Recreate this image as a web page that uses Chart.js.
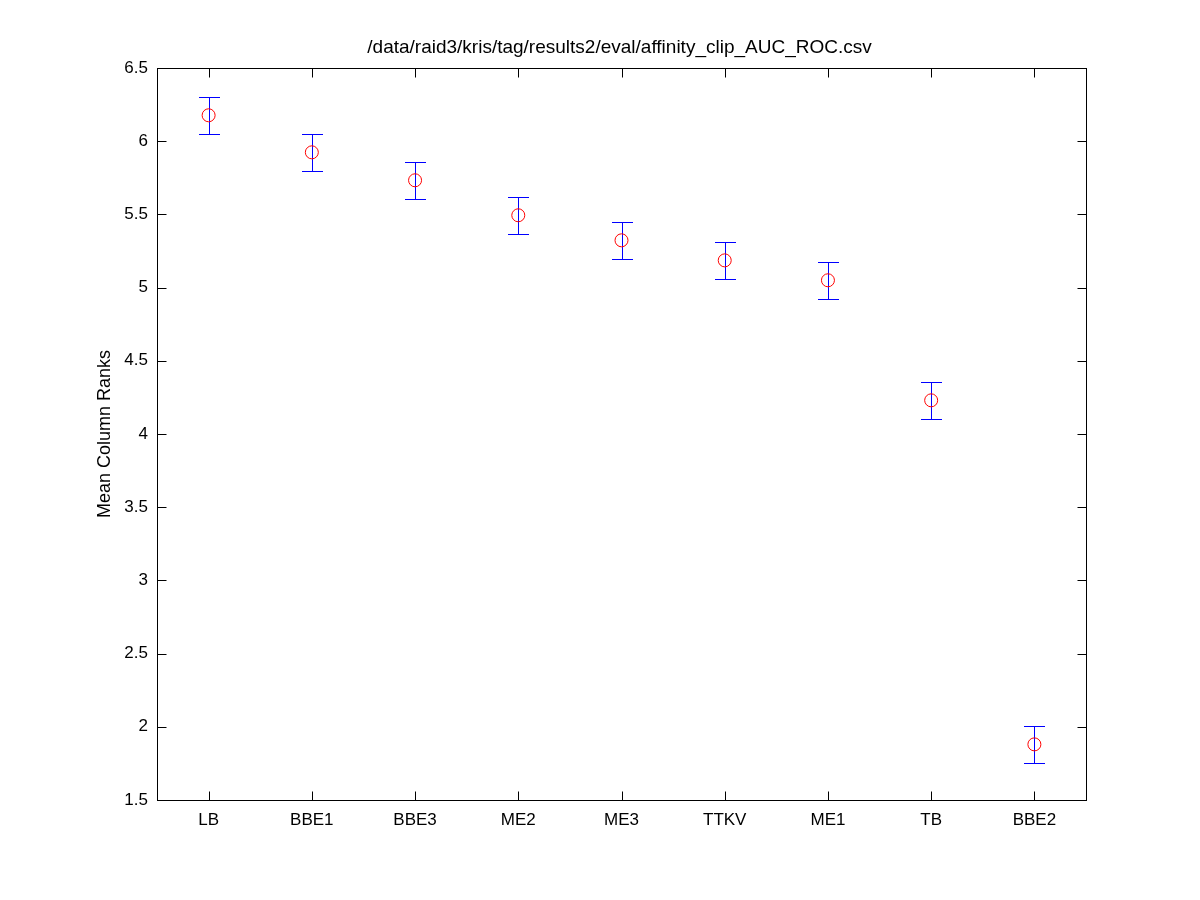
<!DOCTYPE html>
<html>
<head>
<meta charset="utf-8">
<script src="https://cdn.jsdelivr.net/npm/chart.js@4/dist/chart.umd.min.js"></script>
<style>
  body { margin: 0; background: #fff; }
  #wrap { width: 1200px; height: 900px; }
</style>
</head>
<body>
<div id="wrap"><canvas id="rankChart" width="1200" height="900"></canvas></div>
<script>
const categories = ['LB', 'BBE1', 'BBE3', 'ME2', 'ME3', 'TTKV', 'ME1', 'TB', 'BBE2'];
const meanRanks = [6.177, 5.924, 5.733, 5.494, 5.323, 5.186, 5.050, 4.230, 1.880];
const rankErrors = [0.126, 0.126, 0.126, 0.126, 0.126, 0.126, 0.126, 0.126, 0.126];
const yTicks = [1.5, 2, 2.5, 3, 3.5, 4, 4.5, 5, 5.5, 6, 6.5];
const chartTitle = '/data/raid3/kris/tag/results2/eval/affinity_clip_AUC_ROC.csv';

const fontFam = '"Liberation Sans", Arial, sans-serif';

// error bars, axis box, inward ticks and title (matlab style)
const matlabPlot = {
  id: 'matlabPlot',
  beforeDatasetsDraw(chart) {
    const ctx = chart.ctx;
    const xs = chart.scales.x;
    const ys = chart.scales.y;
    ctx.save();
    ctx.strokeStyle = '#0000ff';
    ctx.lineWidth = 1;
    meanRanks.forEach((m, i) => {
      const x = Math.round(xs.getPixelForValue(i)) + 0.5;
      const top = Math.round(ys.getPixelForValue(m + rankErrors[i])) + 0.5;
      const bot = Math.round(ys.getPixelForValue(m - rankErrors[i])) + 0.5;
      ctx.beginPath();
      ctx.moveTo(x, top); ctx.lineTo(x, bot);
      ctx.moveTo(x - 10.5, top); ctx.lineTo(x + 10.5, top);
      ctx.moveTo(x - 10.5, bot); ctx.lineTo(x + 10.5, bot);
      ctx.stroke();
    });
    ctx.restore();
  },
  afterDraw(chart) {
    const ctx = chart.ctx;
    const a = chart.chartArea;
    const xs = chart.scales.x;
    const ys = chart.scales.y;
    const L = Math.round(a.left) + 0.5, R = Math.round(a.right) + 0.5;
    const T = Math.round(a.top) + 0.5, B = Math.round(a.bottom) + 0.5;
    ctx.save();
    ctx.strokeStyle = '#000';
    ctx.lineWidth = 1;
    ctx.strokeRect(L, T, R - L, B - T);
    ctx.beginPath();
    yTicks.forEach(v => {
      const y = Math.round(ys.getPixelForValue(v)) + 0.5;
      ctx.moveTo(L, y); ctx.lineTo(L + 9, y);
      ctx.moveTo(R, y); ctx.lineTo(R - 9, y);
    });
    categories.forEach((c, i) => {
      const x = Math.round(xs.getPixelForValue(i)) + 0.5;
      ctx.moveTo(x, B); ctx.lineTo(x, B - 9);
      ctx.moveTo(x, T); ctx.lineTo(x, T + 9);
    });
    ctx.stroke();
    ctx.fillStyle = '#000';
    ctx.font = '19px ' + fontFam;
    ctx.textAlign = 'center';
    ctx.textBaseline = 'middle';
    ctx.fillText(chartTitle, (a.left + a.right) / 2 - 2, 48);
    ctx.restore();
  }
};

const ctx = document.getElementById('rankChart').getContext('2d');
const chart = new Chart(ctx, {
  type: 'line',
  data: {
    labels: categories,
    datasets: [{
      label: 'Mean Column Ranks',
      data: meanRanks,
      showLine: false,
      pointStyle: 'circle',
      pointRadius: 6.5,
      pointHoverRadius: 6.5,
      pointBorderColor: '#ff0000',
      pointBackgroundColor: 'rgba(0,0,0,0)',
      pointBorderWidth: 1
    }]
  },
  options: {
    responsive: false,
    animation: false,
    devicePixelRatio: 1,
    layout: { padding: { left: 94, right: 114, top: 68, bottom: 0 } },
    plugins: {
      legend: { display: false },
      tooltip: { enabled: false }
    },
    scales: {
      x: {
        type: 'category',
        offset: true,
        grid: { display: false, drawTicks: false },
        border: { display: false },
        ticks: { color: '#000', font: { family: fontFam, size: 17 }, padding: 10, maxRotation: 0 },
        afterFit: s => { s.height = 100; }
      },
      y: {
        min: 1.5,
        max: 6.5,
        grid: { display: false, drawTicks: false },
        border: { display: false },
        ticks: {
          stepSize: 0.5,
          color: '#000',
          padding: 9,
          font: { family: fontFam, size: 17 },
          callback: v => String(v)
        },
        title: {
          display: true,
          text: 'Mean Column Ranks',
          color: '#000',
          padding: 0,
          font: { family: fontFam, size: 18 }
        },
        afterFit: s => { s.width = 63; }
      }
    }
  },
  plugins: [matlabPlot]
});
</script>
</body>
</html>
